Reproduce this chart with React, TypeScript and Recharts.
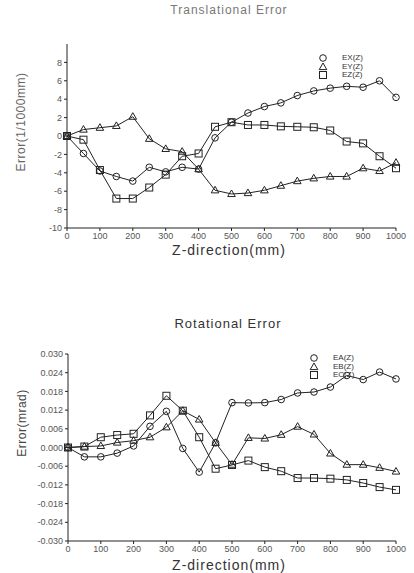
import { Line, LineChart, XAxis, YAxis } from "recharts";

const zPos = [0, 50, 100, 150, 200, 250, 300, 350, 400, 450, 500, 550, 600, 650, 700, 750, 800, 850, 900, 950, 1000];

// translational error, 1/1000 mm
const ex = [0, -1.9, -3.8, -4.4, -4.9, -3.4, -3.9, -3.4, -3.6, -0.2, 1.5, 2.5, 3.2, 3.6, 4.4, 4.9, 5.2, 5.4, 5.3, 6.0, 4.2];
const ey = [0, 0.7, 0.9, 1.1, 2.1, -0.3, -1.4, -1.7, -3.6, -5.9, -6.3, -6.2, -5.9, -5.4, -4.9, -4.6, -4.4, -4.4, -3.5, -3.8, -2.9];
const ez = [0, -0.4, -3.7, -6.8, -6.8, -5.6, -4.2, -2.2, -1.9, 1.0, 1.5, 1.2, 1.2, 1.05, 1.0, 0.95, 0.6, -0.6, -0.8, -2.2, -3.5];

// rotational error, mrad
const ea = [0, -0.003, -0.003, -0.0018, 0.0005, 0.0068, 0.0116, -0.0003, -0.0079, 0.0015, 0.0144, 0.0143, 0.0144, 0.0154, 0.0175, 0.0178, 0.0194, 0.0231, 0.0218, 0.0242, 0.022];
const eb = [0, 0.0003, 0.0005, 0.0016, 0.0022, 0.0033, 0.0065, 0.0118, 0.009, 0.0015, -0.0055, 0.0031, 0.0029, 0.0041, 0.0067, 0.0042, -0.0019, -0.0055, -0.0055, -0.0065, -0.0077];
const ec = [0, 0.0003, 0.0033, 0.004, 0.0044, 0.0103, 0.0166, 0.0118, 0.0033, -0.0068, -0.0056, -0.0042, -0.0063, -0.0076, -0.0098, -0.0098, -0.01, -0.0104, -0.0114, -0.0127, -0.0136];

const xTicks = [0, 100, 200, 300, 400, 500, 600, 700, 800, 900, 1000];
const transTicks = [-10, -8, -6, -4, -2, 0, 2, 4, 6, 8];
const rotTicks = [-0.03, -0.024, -0.018, -0.012, -0.006, 0, 0.006, 0.012, 0.018, 0.024, 0.03];

const transData = zPos.map((z, i) => ({ z, ex: ex[i], ey: ey[i], ez: ez[i] }));
const rotData = zPos.map((z, i) => ({ z, ea: ea[i], eb: eb[i], ec: ec[i] }));

const INK = "#222";
const TXT = "#555";
const FONT = "'Liberation Sans', Arial, sans-serif";

function CircleDot(p: any) {
    if (p.cx == null || p.cy == null) return null;
    return <circle cx={p.cx} cy={p.cy} r={3.3} fill="none" stroke={INK} strokeWidth={1} />;
}

function TriDot(p: any) {
    if (p.cx == null || p.cy == null) return null;
    const { cx, cy } = p;
    return (
        <polygon
            points={`${cx},${cy - 4} ${cx - 3.8},${cy + 2.6} ${cx + 3.8},${cy + 2.6}`}
            fill="none"
            stroke={INK}
            strokeWidth={1}
        />
    );
}

function SquareDot(p: any) {
    if (p.cx == null || p.cy == null) return null;
    return <rect x={p.cx - 3.5} y={p.cy - 3.5} width={7} height={7} fill="none" stroke={INK} strokeWidth={1} />;
}

const tickStyle = { fontSize: 9, fill: TXT, fontFamily: FONT };

function LegendBox({ items, left, top }: { items: Array<{ label: string; kind: string }>; left: number; top: number }) {
    return (
        <div style={{ position: "absolute", left, top, fontFamily: FONT, fontSize: 8, color: "#333" }}>
            {items.map((it) => (
                <div key={it.label} style={{ display: "flex", alignItems: "center", height: 8.5, lineHeight: "8.5px" }}>
                    <svg width={10} height={8} style={{ overflow: "visible" }}>
                        {it.kind === "c" && <CircleDot cx={5} cy={4} />}
                        {it.kind === "t" && <TriDot cx={5} cy={4} />}
                        {it.kind === "s" && <SquareDot cx={5} cy={4} />}
                    </svg>
                    <span style={{ marginLeft: 14 }}>{it.label}</span>
                </div>
            ))}
        </div>
    );
}

const title = { position: "absolute" as const, width: 414, textAlign: "center" as const, fontFamily: FONT, color: "#444", letterSpacing: 1 };

export default function App() {
    return (
        <div style={{ position: "absolute", left: 0, top: 0, width: 414, height: 573, background: "#fff", overflow: "hidden" }}>
            {/* top: translational */}
            <div style={{ ...title, top: 3, left: 22, fontSize: 12, color: "#777" }}>Translational Error</div>
            <div style={{ position: "absolute", left: 0, top: 0 }}>
                <LineChart width={414} height={260} data={transData} margin={{ top: 44, right: 18, bottom: 12, left: 0 }}>
                    <XAxis
                        dataKey="z"
                        type="number"
                        domain={[0, 1000]}
                        ticks={xTicks}
                        height={20}
                        stroke={INK}
                        tickSize={3}
                        tick={tickStyle}
                    />
                    <YAxis
                        type="number"
                        domain={[-10, 10]}
                        ticks={transTicks}
                        width={67}
                        stroke={INK}
                        tickSize={3}
                        tick={tickStyle}
                        allowDataOverflow
                    />
                    <Line dataKey="ex" stroke={INK} strokeWidth={1} dot={<CircleDot />} isAnimationActive={false} />
                    <Line dataKey="ey" stroke={INK} strokeWidth={1} dot={<TriDot />} isAnimationActive={false} />
                    <Line dataKey="ez" stroke={INK} strokeWidth={1} dot={<SquareDot />} isAnimationActive={false} />
                </LineChart>
            </div>
            <div
                style={{
                    position: "absolute", left: 21, top: 122, transform: "translate(-50%, -50%) rotate(-90deg)",
                    fontFamily: FONT, fontSize: 12, color: "#666", whiteSpace: "nowrap", letterSpacing: 0.5,
                }}
            >
                Error(1/1000mm)
            </div>
            <div style={{ ...title, top: 242, left: 22, fontSize: 14, color: "#333" }}>Z-direction(mm)</div>
            <LegendBox
                left={318}
                top={54}
                items={[{ label: "EX(Z)", kind: "c" }, { label: "EY(Z)", kind: "t" }, { label: "EZ(Z)", kind: "s" }]}
            />

            {/* bottom: rotational */}
            <div style={{ ...title, top: 316, left: 21, fontSize: 13, color: "#333" }}>Rotational Error</div>
            <div style={{ position: "absolute", left: 0, top: 290 }}>
                <LineChart width={414} height={283} data={rotData} margin={{ top: 64, right: 18, bottom: 12, left: 0 }}>
                    <XAxis
                        dataKey="z"
                        type="number"
                        domain={[0, 1000]}
                        ticks={xTicks}
                        height={20}
                        stroke={INK}
                        tickSize={3}
                        tick={tickStyle}
                    />
                    <YAxis
                        type="number"
                        domain={[-0.03, 0.03]}
                        ticks={rotTicks}
                        width={68}
                        stroke={INK}
                        tickSize={3}
                        tick={tickStyle}
                        tickFormatter={(v: number) => v.toFixed(3)}
                        allowDataOverflow
                    />
                    <Line dataKey="ea" stroke={INK} strokeWidth={1} dot={<CircleDot />} isAnimationActive={false} />
                    <Line dataKey="eb" stroke={INK} strokeWidth={1} dot={<TriDot />} isAnimationActive={false} />
                    <Line dataKey="ec" stroke={INK} strokeWidth={1} dot={<SquareDot />} isAnimationActive={false} />
                </LineChart>
            </div>
            <div
                style={{
                    position: "absolute", left: 22, top: 423, transform: "translate(-50%, -50%) rotate(-90deg)",
                    fontFamily: FONT, fontSize: 12, color: "#444", whiteSpace: "nowrap", letterSpacing: 0.5,
                }}
            >
                Error(mrad)
            </div>
            <div style={{ ...title, top: 557, left: 22, fontSize: 14, color: "#333" }}>Z-direction(mm)</div>
            <LegendBox
                left={309}
                top={354}
                items={[{ label: "EA(Z)", kind: "c" }, { label: "EB(Z)", kind: "t" }, { label: "EC(Z)", kind: "s" }]}
            />
        </div>
    );
}
